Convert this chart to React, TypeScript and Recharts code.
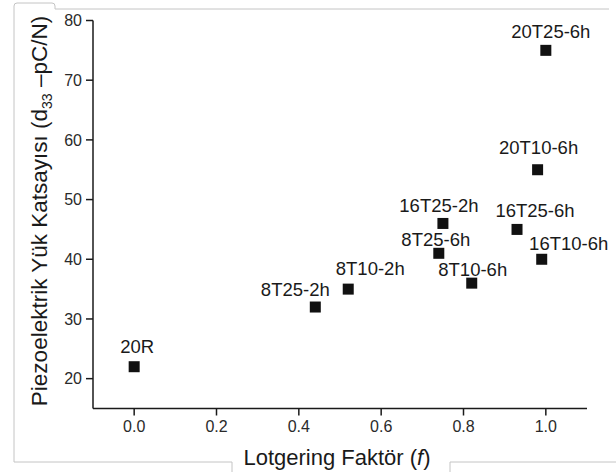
import React from "react";
import {
  ScatterChart,
  Scatter,
  XAxis,
  YAxis,
  Label,
} from "recharts";

// sample names, Lotgering factor and d33
const sampleNames = [
  "20R",
  "8T25-2h",
  "8T10-2h",
  "16T25-2h",
  "8T25-6h",
  "8T10-6h",
  "16T25-6h",
  "16T10-6h",
  "20T10-6h",
  "20T25-6h",
];
const lotgeringF = [0.0, 0.44, 0.52, 0.75, 0.74, 0.82, 0.93, 0.99, 0.98, 1.0];
const d33Values = [22, 32, 35, 46, 41, 36, 45, 40, 55, 75];

const xTicks = [0, 0.2, 0.4, 0.6, 0.8, 1.0];
const yTicks = [20, 30, 40, 50, 60, 70, 80];

// where each name sits relative to its square (text centre)
const LABEL_OFFSETS: Record<string, [number, number]> = {
  "20R": [3, -20],
  "8T25-2h": [-20, -18],
  "8T10-2h": [22, -21],
  "16T25-2h": [-4, -18],
  "8T25-6h": [-3, -14],
  "8T10-6h": [1, -14],
  "16T25-6h": [18, -19],
  "16T10-6h": [27, -16],
  "20T10-6h": [1, -22],
  "20T25-6h": [5, -19],
};

const data = sampleNames.map((name, i) => ({
  name,
  f: lotgeringF[i],
  d: d33Values[i],
}));

const FONT = "'Liberation Sans', Arial, sans-serif";
const AXIS = "#1a1a1a";
const FRAME = "#c4c4c4";

const SquareWithName = (props: any) => {
  const { cx, cy, payload } = props;
  const [dx, dy] = LABEL_OFFSETS[payload.name] || [0, -18];
  const fs = 18.5;
  return (
    <g>
      <rect x={cx - 5.5} y={cy - 5.5} width={11} height={11} fill="#111" />
      <text
        x={cx + dx}
        y={cy + dy + fs * 0.36}
        textAnchor="middle"
        fontSize={fs}
        fill="#1a1a1a"
      >
        {payload.name}
      </text>
    </g>
  );
};

const YTitle = () => {
  const cx = 47;
  const cy = 211;
  return (
    <text
      x={cx}
      y={cy}
      transform={`rotate(-90 ${cx} ${cy})`}
      textAnchor="middle"
      fontSize={22.5}
      fill="#1a1a1a"
    >
      Piezoelektrik Yük Katsayısı (d
      <tspan fontSize={14} dy={5}>
        33
      </tspan>
      <tspan dy={-5}> –pC/N)</tspan>
    </text>
  );
};

const XTitle = () => (
  <text x={337} y={465} textAnchor="middle" fontSize={22} fill="#1a1a1a">
    Lotgering Faktör (<tspan fontStyle="italic">f</tspan>)
  </text>
);

export default function App() {
  return (
    <div
      style={{
        position: "absolute",
        left: 0,
        top: 0,
        width: 616,
        height: 472,
        background: "#fff",
        fontFamily: FONT,
      }}
    >
      <svg
        width={616}
        height={472}
        style={{ position: "absolute", left: 0, top: 0, pointerEvents: "none" }}
      >
        <path
          d="M14,462 L14,6 Q14,3 17,3 L52,3 Q55,3 55,6 L55,9 L609,9"
          fill="none"
          stroke={FRAME}
        />
        <path d="M14,462 L232,462 L232,472" fill="none" stroke={FRAME} />
        <path d="M450,472 L450,462 L616,462" fill="none" stroke={FRAME} />
      </svg>
      <div style={{ position: "absolute", left: 0, top: 0 }}>
        <ScatterChart
          width={616}
          height={472}
          margin={{ top: 20.5, right: 29, bottom: 33.5, left: 33 }}
        >
          <XAxis
            type="number"
            dataKey="f"
            domain={[-0.1, 1.1]}
            ticks={xTicks}
            tickFormatter={(v: number) => v.toFixed(1)}
            height={30}
            tickSize={7}
            tickMargin={5}
            axisLine={{ stroke: AXIS, strokeWidth: 1.5 }}
            tickLine={{ stroke: AXIS, strokeWidth: 1.5 }}
            tick={{ fill: "#2a2a2a", fontSize: 16 }}
          >
            <Label content={<XTitle />} />
          </XAxis>
          <YAxis
            type="number"
            dataKey="d"
            domain={[15, 80]}
            ticks={yTicks}
            width={60}
            tickSize={7}
            tickMargin={4}
            axisLine={{ stroke: AXIS, strokeWidth: 1.5 }}
            tickLine={{ stroke: AXIS, strokeWidth: 1.5 }}
            tick={{ fill: "#2a2a2a", fontSize: 16 }}
          >
            <Label content={<YTitle />} />
          </YAxis>
          <Scatter
            data={data}
            shape={<SquareWithName />}
            isAnimationActive={false}
          />
        </ScatterChart>
      </div>
    </div>
  );
}
